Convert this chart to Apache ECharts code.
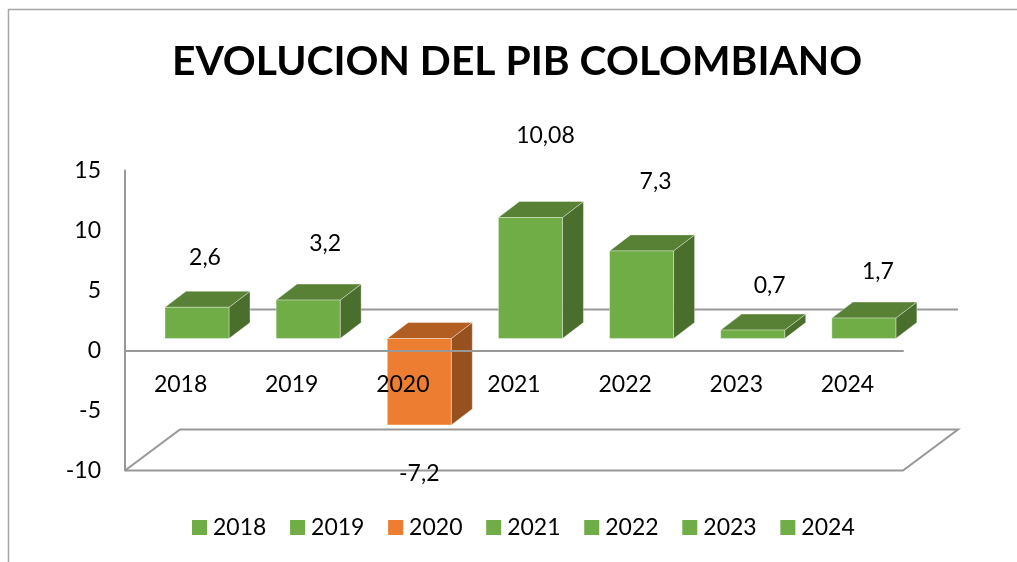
<!DOCTYPE html>
<html><head><meta charset="utf-8">
<style>html,body{margin:0;padding:0;background:#fff}#c{width:1017px;height:562px}</style>
<script src="https://cdn.jsdelivr.net/npm/echarts@6/dist/echarts.min.js"></script>
</head><body><div id="c"></div>
<script>
const years = ['2018','2019','2020','2021','2022','2023','2024'];
const values = [2.6,3.2,-7.2,10.08,7.3,0.7,1.7];
const valueLabels = ['2,6','3,2','-7,2','10,08','7,3','0,7','1,7'];
const yTicks = [-10,-5,0,5,10,15];
const titleText = 'EVOLUCION DEL PIB COLOMBIANO';

const FONT = 'Lato';
const GREEN = {front:'#70ad47', top:'#588135', side:'#4a6e2b'};
const ORANGE = {front:'#ed7d31', top:'#b25e22', side:'#97511f'};
const AXIS = '#989898';
const labelDx = [8,17,0,15,14,17,14];
const labelDy = [3,-2,0,-2,0,1,3];

function barItem(idx){
  return function(params, api){
    const cs = params.coordSys;
    const band = cs.width / years.length;
    const v = values[idx];
    const unit = cs.height / 25;
    const zero = api.coord([years[idx], 0]);
    const x0 = zero[0] - band/2 + 40;
    const x1 = x0 + 64;
    const yBase = zero[1] - 12;
    const yTop = api.coord([years[idx], v])[1] - 12;
    const dx = 21, dy = 16;
    const top = Math.min(yTop, yBase), bot = Math.max(yTop, yBase);
    const c = v < 0 ? ORANGE : GREEN;
    const lv = v >= 0 ? 4.6 + 1.3*v : -0.9 + 1.3*v;
    const ly = zero[1] - lv*unit + labelDy[idx];
    const lx = (x0+x1)/2 + labelDx[idx];
    const edge = {stroke:'rgba(255,255,255,0.35)', lineWidth:1};
    return {type:'group', children:[
      {type:'polygon', shape:{points:[[x1,top],[x1+dx,top-dy],[x1+dx,bot-dy],[x1,bot]]}, style:{fill:c.side, ...edge}},
      {type:'polygon', shape:{points:[[x0,top],[x0+dx,top-dy],[x1+dx,top-dy],[x1,top]]}, style:{fill:c.top, ...edge}},
      {type:'rect', shape:{x:x0,y:top,width:64,height:bot-top}, style:{fill:c.front, ...edge}},
      {type:'text', x:lx, y:ly, style:{text:valueLabels[idx], fill:'#000', font:'23px '+FONT, align:'center', verticalAlign:'middle'}}
    ]};
  };
}
function wallItem(params, api){
  const cs = params.coordSys;
  const dx = 55, dy = 41;
  const zy = api.coord([years[0],0])[1] - dy;
  const L = cs.x, R = cs.x+cs.width, B = cs.y+cs.height;
  const st = {stroke:AXIS, lineWidth:2, fill:null};
  return {type:'group', children:[
    {type:'polyline', shape:{points:[[L,B],[L+dx,B-dy],[R+dx,B-dy],[R,B],[L,B]]}, style:st},
    {type:'line', shape:{x1:L+dx,y1:zy,x2:R+dx,y2:zy}, style:{stroke:AXIS,lineWidth:2}}
  ]};
}
const series = [{
  name:'wall', type:'custom', z:1, silent:true, data:[[years[0],0]], encode:{x:0,y:1}, renderItem:wallItem
}];
years.forEach((y,i)=>series.push({
  name:y, type:'custom', z:2, silent:true, data:[[y, values[i]]], encode:{x:0,y:1},
  itemStyle:{color: values[i]<0 ? ORANGE.front : GREEN.front}, renderItem:barItem(i)
}));

const chart = echarts.init(document.getElementById('c'), null, {renderer:'canvas'});
chart.setOption({
  animation:false,
  backgroundColor:'#fff',
  title:{text:titleText, left:167, top:36,
    textStyle:{fontFamily:FONT,fontWeight:'bold',fontSize:40.8,color:'#000'}},
  legend:{data:years, left:187, top:511, icon:'rect', itemWidth:15, itemHeight:15, itemGap:23.7,
    textStyle:{fontFamily:FONT,fontSize:23,color:'#000',padding:[0,0,0,1]}, selectedMode:false},
  grid:{left:125,right:114,top:170.5,bottom:91.5,containLabel:false},
  xAxis:{type:'category',data:years,z:3,
    axisLine:{onZero:true,lineStyle:{color:AXIS,width:2}},
    axisTick:{show:false},
    axisLabel:{margin:-97,color:'#000',fontFamily:FONT,fontSize:23}},
  yAxis:{type:'value',min:-10,max:15,interval:5,z:3,
    axisLine:{show:true,lineStyle:{color:AXIS,width:2}},
    axisTick:{show:false},splitLine:{show:false},
    axisLabel:{margin:24,color:'#000',fontFamily:FONT,fontSize:23,padding:[3,0,0,0]}},
  graphic:[{type:'polyline',z:0,silent:true,shape:{points:[[8.5,562],[8.5,9.5],[1017,9.5]]},style:{stroke:'#a6a6a6',lineWidth:1.5,fill:null}}],
  series
});
</script></body></html>
